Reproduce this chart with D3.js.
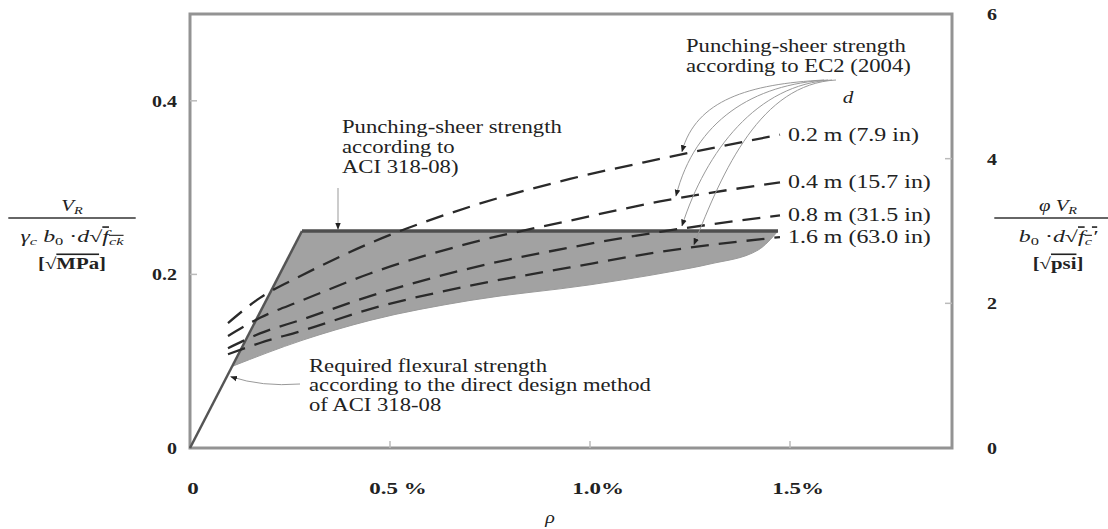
<!DOCTYPE html>
<html><head><meta charset="utf-8">
<script src="https://cdn.jsdelivr.net/npm/d3@7"></script>
<style>
body{margin:0;background:#fff}
svg{display:block}
text{font-family:"Liberation Serif","Times New Roman",serif;fill:#222}
</style>
</head><body>
<svg id="chart" width="1108" height="529"></svg>
<script>
// axis ticks
const rhoTicks = [0, 0.5, 1.0, 1.5];
const rhoTickLabels = ["0", "0.5 %", "1.0%", "1.5%"];
const leftTicks = [0, 0.2, 0.4];
const leftTickLabels = ["0", "0.2", "0.4"];
const rightTicks = [0, 2, 4, 6];
const rightTickLabels = ["0", "2", "4", "6"];

// required flexural strength (direct design method): rise then plateau
const flexRho = [0, 0.28, 1.47];
const flexVal = [0, 0.25, 0.25];

// lower edge of the shaded band
const bandRho = [0.105, 0.28, 0.45, 0.70, 1.0, 1.2, 1.3, 1.42, 1.47];
const bandLow = [0.094, 0.124, 0.147, 0.170, 0.188, 0.203, 0.212, 0.228, 0.25];

// EC2 (2004) punching shear strength for four effective depths
const ec2Rho = [0.095, 0.175, 0.28, 0.45, 0.70, 0.95, 1.175, 1.475];
const ec2Labels = ["0.2 m (7.9 in)", "0.4 m (15.7 in)", "0.8 m (31.5 in)", "1.6 m (63.0 in)"];
const ec2d02 = [0.144, 0.173, 0.199, 0.236, 0.278, 0.310, 0.333, 0.361];
const ec2d04 = [0.129, 0.150, 0.170, 0.201, 0.236, 0.262, 0.284, 0.306];
const ec2d08 = [0.115, 0.132, 0.148, 0.175, 0.207, 0.231, 0.249, 0.268];
const ec2d16 = [0.108, 0.121, 0.135, 0.160, 0.187, 0.208, 0.226, 0.243];
const ec2Series = [ec2d02, ec2d04, ec2d08, ec2d16];
const ec2ArrowRho = [1.23, 1.215, 1.23, 1.26];

const svg = d3.select("#chart");
const L = 190, R = 952, T = 14, B = 448;
const x = d3.scaleLinear().domain([0, 1.905]).range([L, R]);
const y = d3.scaleLinear().domain([0, 0.5]).range([B, T]);
const y2 = d3.scaleLinear().domain([0, 6]).range([B, T]);
const SX = 1.25; // wide serif lettering

const defs = svg.append("defs");
defs.append("marker").attr("id", "ah").attr("viewBox", "0 -5 10 10")
  .attr("refX", 9).attr("refY", 0).attr("markerWidth", 7).attr("markerHeight", 7)
  .attr("orient", "auto").attr("markerUnits", "userSpaceOnUse")
  .append("path").attr("d", "M0,-4L10,0L0,4Z").attr("fill", "#222");

// shaded band between lower edge and flexural requirement
const bandPts = bandRho.map((r, i) => [r, bandLow[i]]);
const topPts = [[1.47, 0.25], [0.28, 0.25], [0.105, 0.094]];
svg.append("path")
  .attr("d", d3.line().x(d => x(d[0])).y(d => y(d[1])).curve(d3.curveMonotoneX)(bandPts) +
    "L" + topPts.map(d => x(d[0]) + "," + y(d[1])).join("L") + "Z")
  .attr("fill", "#a2a2a2").attr("stroke", "#9a9a9a").attr("stroke-width", 1);

// frame
svg.append("rect").attr("x", L).attr("y", T).attr("width", R - L).attr("height", B - T)
  .attr("fill", "none").attr("stroke", "#939393").attr("stroke-width", 3);

// inward ticks
svg.selectAll(".bt").data(rhoTicks.slice(1)).join("line")
  .attr("x1", d => x(d)).attr("x2", d => x(d)).attr("y1", B).attr("y2", B - 7)
  .attr("stroke", "#bbb").attr("stroke-width", 1.5);
svg.selectAll(".lt").data(leftTicks.slice(1)).join("line")
  .attr("x1", L).attr("x2", L + 7).attr("y1", d => y(d)).attr("y2", d => y(d))
  .attr("stroke", "#bbb").attr("stroke-width", 1.5);
svg.selectAll(".rt").data(rightTicks.slice(1, 3)).join("line")
  .attr("x1", R).attr("x2", R - 7).attr("y1", d => y2(d)).attr("y2", d => y2(d))
  .attr("stroke", "#bbb").attr("stroke-width", 1.5);

function wideText(px, py, str, opts = {}) {
  const g = svg.append("g").attr("transform", `translate(${px},${py}) scale(${opts.sx || SX},1)`);
  return g.append("text").attr("text-anchor", opts.anchor || "start")
    .attr("font-size", opts.size || 17).attr("font-weight", opts.weight || "normal")
    .attr("font-style", opts.style || "normal").text(str);
}

// tick labels
leftTicks.forEach((d, i) => wideText(177, y(d) + 6, leftTickLabels[i], {anchor: "end", weight: "bold", size: 16}));
rightTicks.forEach((d, i) => wideText(992, y2(d) + 6, rightTickLabels[i], {anchor: "middle", weight: "bold", size: 16}));
rhoTicks.forEach((d, i) => wideText(x(d) + (i === 0 ? 3 : 8), 494, rhoTickLabels[i],
  {anchor: "middle", weight: "bold", size: 17, sx: 1.35}));
wideText(550, 523, "ρ", {anchor: "middle", style: "italic", size: 16});

// flexural requirement line and plateau
svg.append("path")
  .attr("d", d3.line().x((d, i) => x(flexRho[i])).y((d, i) => y(flexVal[i]))(flexRho.slice(0, 2)))
  .attr("fill", "none").attr("stroke", "#555").attr("stroke-width", 2.5);
svg.append("line").attr("x1", x(flexRho[1])).attr("x2", x(flexRho[2]))
  .attr("y1", y(flexVal[1])).attr("y2", y(flexVal[2]))
  .attr("stroke", "#4e4e4e").attr("stroke-width", 3.5);

// EC2 dashed curves with depth labels
const curveLine = d3.line().x((d, i) => x(ec2Rho[i])).y(d => y(d)).curve(d3.curveMonotoneX);
ec2Series.forEach((s, k) => {
  svg.append("path").attr("d", curveLine(s)).attr("fill", "none")
    .attr("stroke", "#2a2a2a").attr("stroke-width", 2.3).attr("stroke-dasharray", "18,10");
  wideText(x(ec2Rho[ec2Rho.length - 1]) + 8, y(s[s.length - 1]) + 6, ec2Labels[k], {size: 18, sx: 1.33});
});
wideText(848, 103, "d", {anchor: "middle", style: "italic", size: 17});

// EC2 annotation with leaders
wideText(686, 52, "Punching-sheer strength", {size: 18, sx: 1.26});
wideText(686, 72, "according to EC2 (2004)", {size: 18, sx: 1.26});
function interp(arr, r) {
  for (let i = 0; i < ec2Rho.length - 1; i++) {
    if (r >= ec2Rho[i] && r <= ec2Rho[i + 1]) {
      const t = (r - ec2Rho[i]) / (ec2Rho[i + 1] - ec2Rho[i]);
      return arr[i] + t * (arr[i + 1] - arr[i]);
    }
  }
  return arr[arr.length - 1];
}
ec2Series.forEach((s, k) => {
  const tx = x(ec2ArrowRho[k]), ty = y(interp(s, ec2ArrowRho[k])) - 3;
  const sx = 824 + k * 4, sy = 80;
  svg.append("path")
    .attr("d", `M${sx},${sy} C${sx - 75},${sy + 4} ${tx + 14 + k * 5},${Math.max(sy + 20, ty - 75)} ${tx},${ty}`)
    .attr("fill", "none").attr("stroke", "#9a9a9a").attr("stroke-width", 1)
    .attr("marker-end", "url(#ah)");
});

// ACI punching shear annotation
wideText(342, 133, "Punching-sheer strength", {size: 18, sx: 1.26});
wideText(342, 153, "according to", {size: 18, sx: 1.26});
wideText(342, 173, "ACI 318-08)", {size: 18, sx: 1.26});
svg.append("path").attr("d", `M${x(0.37)},188 L${x(0.37)},${y(0.25) - 2}`)
  .attr("fill", "none").attr("stroke", "#999").attr("stroke-width", 1).attr("marker-end", "url(#ah)");

// flexural annotation
wideText(309, 372, "Required flexural strength", {size: 18, sx: 1.26});
wideText(309, 391, "according to the direct design method", {size: 18, sx: 1.26});
wideText(309, 411, "of ACI 318-08", {size: 18, sx: 1.26});
const fx = x(0.092) + 4, fy = y(0.092 * 0.25 / 0.28);
svg.append("path").attr("d", `M300,384 Q262,387 ${fx},${fy}`)
  .attr("fill", "none").attr("stroke", "#999").attr("stroke-width", 1).attr("marker-end", "url(#ah)");

// axis titles (fractions)
function fraction(cx, num, den, unit) {
  const g = svg.append("g").attr("transform", `translate(${cx},0) scale(1.3,1)`);
  const n = g.append("text").attr("x", 0).attr("y", 211).attr("text-anchor", "middle").attr("font-size", 16);
  num(n);
  g.append("line").attr("x1", -49).attr("x2", 49).attr("y1", 218).attr("y2", 218)
    .attr("stroke", "#333").attr("stroke-width", 1.4);
  const d = g.append("text").attr("x", 0).attr("y", 242).attr("text-anchor", "middle").attr("font-size", 16)
    .attr("transform", "scale(1.15,1)");
  den(d);
  const u = g.append("text").attr("x", 0).attr("y", 269).attr("text-anchor", "middle").attr("font-size", 16)
    .attr("font-weight", "bold");
  u.append("tspan").text("[√");
  u.append("tspan").attr("style", "text-decoration:overline").text(unit);
  u.append("tspan").text("]");
}
fraction(72, t => {
  t.append("tspan").attr("font-style", "italic").text("V");
  t.append("tspan").attr("font-style", "italic").attr("font-size", 11).attr("dy", 3).text("R");
}, t => {
  t.append("tspan").attr("font-style", "italic").text("γ");
  t.append("tspan").attr("font-style", "italic").attr("font-size", 11).attr("dy", 3).text("c");
  t.append("tspan").attr("dy", -3).text("  ");
  t.append("tspan").attr("font-style", "italic").text("b");
  t.append("tspan").attr("font-size", 11).attr("dy", 3).text("0");
  t.append("tspan").attr("dy", -3).text(" ·");
  t.append("tspan").attr("font-style", "italic").text("d");
  t.append("tspan").text("√");
  t.append("tspan").attr("font-style", "italic").attr("style", "text-decoration:overline").text("f");
  t.append("tspan").attr("font-style", "italic").attr("font-size", 11).attr("dy", 3)
    .attr("style", "text-decoration:overline").text("ck");
}, "MPa");
fraction(1058, t => {
  t.append("tspan").attr("font-style", "italic").text("φ  V");
  t.append("tspan").attr("font-style", "italic").attr("font-size", 11).attr("dy", 3).text("R");
}, t => {
  t.append("tspan").attr("font-style", "italic").text("b");
  t.append("tspan").attr("font-size", 11).attr("dy", 3).text("0");
  t.append("tspan").attr("dy", -3).text(" ·");
  t.append("tspan").attr("font-style", "italic").text("d");
  t.append("tspan").text("√");
  t.append("tspan").attr("font-style", "italic").attr("style", "text-decoration:overline").text("f");
  t.append("tspan").attr("font-style", "italic").attr("font-size", 11).attr("dy", 3)
    .attr("style", "text-decoration:overline").text("c");
  t.append("tspan").attr("font-style", "italic").attr("dy", -3).attr("style", "text-decoration:overline").text("′");
}, "psi");
</script>
</body></html>
